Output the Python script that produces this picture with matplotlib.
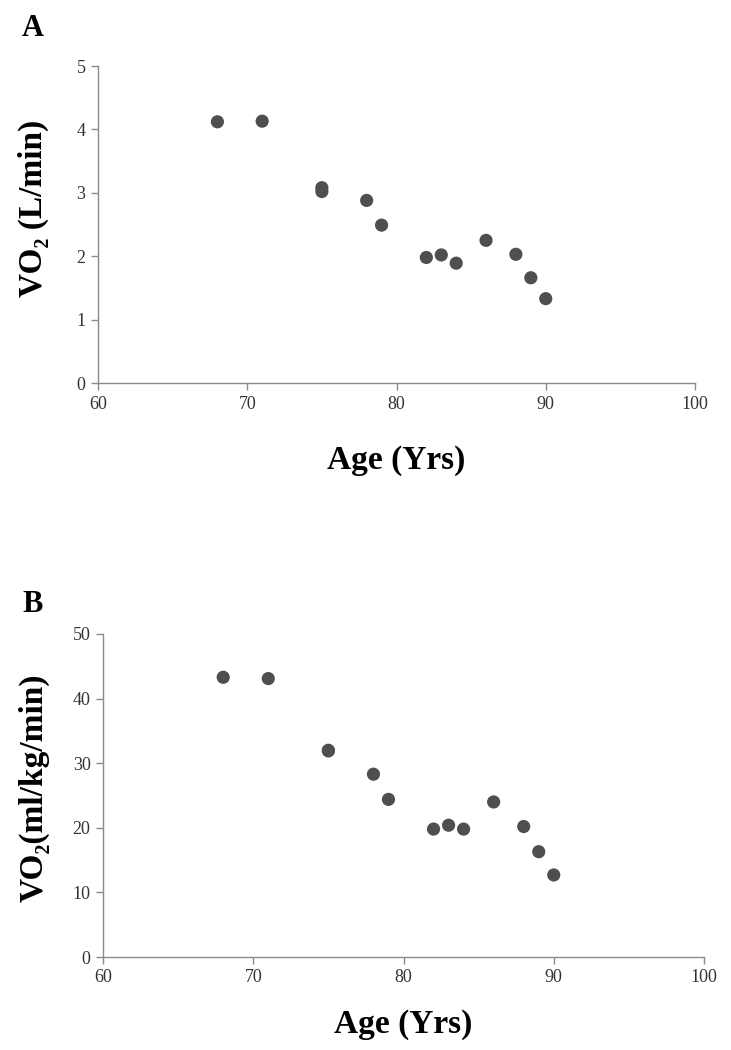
import matplotlib
matplotlib.use("Agg")
import matplotlib.pyplot as plt

# Data
age_a = [68, 71, 75, 75, 78, 79, 82, 83, 84, 86, 88, 89, 90]
vo2_abs = [4.12, 4.13, 3.08, 3.02, 2.88, 2.49, 1.98, 2.02, 1.89, 2.25, 2.03, 1.66, 1.33]
age_b = [68, 71, 75, 75, 78, 79, 82, 83, 84, 86, 88, 89, 90]
vo2_rel = [43.3, 43.1, 32.0, 31.9, 28.3, 24.4, 19.8, 20.4, 19.8, 24.0, 20.2, 16.3, 12.7]
xticks = [60, 70, 80, 90, 100]
yticks_a = [0, 1, 2, 3, 4, 5]
yticks_b = [0, 10, 20, 30, 40, 50]

plt.rcParams['font.family'] = ['Liberation Serif', 'DejaVu Serif']

fig = plt.figure(figsize=(7.31, 10.5), dpi=100)
W, H = 731, 1050

def make_ax(l, r, b, t):
    return fig.add_axes([l / W, 1 - b / H, (r - l) / W, (b - t) / H])

axA = make_ax(98, 695, 383, 66)
axB = make_ax(103, 704, 957, 634)

def style(ax, yticks, ylabel, ylab_x, ylab_y, xlab_y):
    ax.set_xlim(60, 100)
    ax.set_xticks(xticks)
    ax.set_ylim(yticks[0], yticks[-1])
    ax.set_yticks(yticks)
    for s in ['top', 'right']:
        ax.spines[s].set_visible(False)
    for s in ['left', 'bottom']:
        ax.spines[s].set_color('#8a8a8a')
        ax.spines[s].set_linewidth(1.0)
    ax.tick_params(direction='out', length=5, width=1.0, color='#8a8a8a',
                   labelsize=13, labelcolor='#333333', pad=4)
    ax.set_ylabel(ylabel, fontsize=24, fontweight='bold')
    ax.yaxis.set_label_coords(ylab_x, ylab_y)
    ax.set_xlabel('Age (Yrs)', fontsize=24, fontweight='bold')
    ax.xaxis.set_label_coords(0.5, xlab_y)

axA.scatter(age_a, vo2_abs, s=90, color='#4f4f4f', edgecolors='none', zorder=3)
axB.scatter(age_b, vo2_rel, s=90, color='#4f4f4f', edgecolors='none', zorder=3)

style(axA, yticks_a, 'VO\u2082 (L/min)', -0.082, 0.55, -0.195)
style(axB, yticks_b, 'VO\u2082(ml/kg/min)', -0.088, 0.525, -0.16)

fig.text(22 / W, 1 - 28 / H, 'A', fontsize=22, fontweight='bold', va='center', ha='left')
fig.text(22 / W, 1 - 605 / H, 'B', fontsize=22, fontweight='bold', va='center', ha='left')

fig.savefig('out.png', dpi=100, facecolor='white')
